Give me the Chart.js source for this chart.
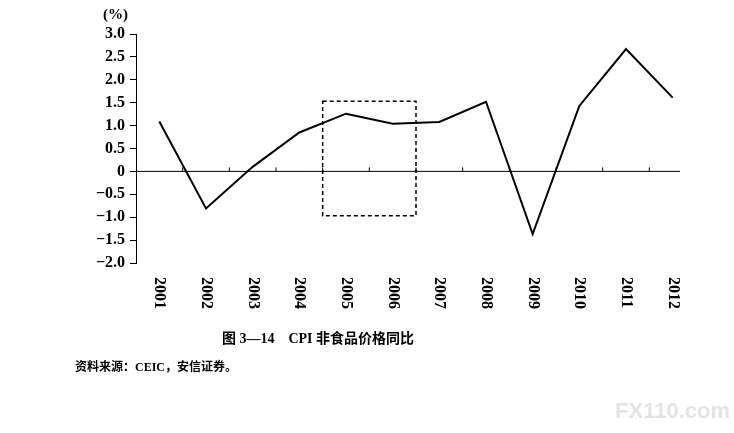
<!DOCTYPE html>
<html><head><meta charset="utf-8">
<script src="https://cdn.jsdelivr.net/npm/chart.js@4"></script>
<style>html,body{margin:0;padding:0;background:#fff;}canvas{display:block;}</style>
</head><body>
<canvas id="c" width="734" height="433"></canvas>
<script>
const years = ['2001','2002','2003','2004','2005','2006','2007','2008','2009','2010','2011','2012'];
const values = [1.09, -0.81, 0.10, 0.85, 1.26, 1.04, 1.08, 1.52, -1.37, 1.43, 2.67, 1.61];
const yRange = [-2, 3];
const yStep = 0.5;
const boxCategories = [3.5, 5.5];   // dashed box spans 2005–2006
const boxValues = [1.53, -0.97];
const unitLabel = '(%)';
const caption = '图 3—14　CPI 非食品价格同比';
const source = '资料来源：CEIC，安信证券。';
const watermark = 'FX110.com';

const SERIF = '"Liberation Serif", "Noto Sans CJK SC", serif';

const overlay = {
  id: 'overlay',
  afterDatasetsDraw(chart) {
    const ctx = chart.ctx, x = chart.scales.x, y = chart.scales.y, a = chart.chartArea;
    const y0 = y.getPixelForValue(0);
    ctx.save();
    // zero axis line
    ctx.strokeStyle = '#000'; ctx.lineWidth = 1;
    ctx.beginPath(); ctx.moveTo(a.left, y0); ctx.lineTo(a.right - 16, y0); ctx.stroke();
    // tick marks at category boundaries
    for (let i = 0; i < years.length - 1; i++) {
      const px = (x.getPixelForValue(i) + x.getPixelForValue(i + 1)) / 2;
      ctx.beginPath(); ctx.moveTo(px, y0); ctx.lineTo(px, y0 - 4); ctx.stroke();
    }
    // dashed box
    const bx0 = (x.getPixelForValue(Math.floor(boxCategories[0])) + x.getPixelForValue(Math.ceil(boxCategories[0]))) / 2;
    const bx1 = (x.getPixelForValue(Math.floor(boxCategories[1])) + x.getPixelForValue(Math.ceil(boxCategories[1]))) / 2;
    const by0 = y.getPixelForValue(boxValues[0]), by1 = y.getPixelForValue(boxValues[1]);
    ctx.setLineDash([4, 3]); ctx.lineWidth = 1.5;
    ctx.strokeRect(bx0, by0, bx1 - bx0, by1 - by0);
    ctx.setLineDash([]);
    // x labels, rotated to read top-to-bottom
    ctx.fillStyle = '#000';
    ctx.font = 'bold 16px ' + SERIF;
    years.forEach((yr, i) => {
      const px = x.getPixelForValue(i);
      ctx.save();
      ctx.translate(px, a.bottom + 14);
      ctx.rotate(Math.PI / 2);
      ctx.textAlign = 'left'; ctx.textBaseline = 'middle';
      ctx.fillText(yr, 0, 0);
      ctx.restore();
    });
    // unit label
    ctx.font = 'bold 15px ' + SERIF;
    ctx.textAlign = 'right'; ctx.textBaseline = 'middle';
    ctx.fillText(unitLabel, a.left - 8, a.top - 19);
    // caption
    ctx.font = 'bold 14px ' + SERIF;
    ctx.textAlign = 'center';
    ctx.fillText(caption, 318, 339);
    ctx.font = 'bold 12px ' + SERIF;
    ctx.textAlign = 'left';
    ctx.fillText(source, 75, 368);
    // watermark
    ctx.font = 'bold 22px "Liberation Sans", sans-serif';
    ctx.fillStyle = '#e4e4e4';
    ctx.textAlign = 'right';
    ctx.fillText(watermark, 730, 412);
    ctx.restore();
  }
};

new Chart(document.getElementById('c'), {
  type: 'line',
  data: {
    labels: years,
    datasets: [{
      data: values,
      borderColor: '#000',
      borderWidth: 2,
      pointRadius: 0,
      tension: 0,
      fill: false
    }]
  },
  options: {
    responsive: false,
    animation: false,
    devicePixelRatio: 1,
    layout: { padding: { top: 34, bottom: 170, right: 38, left: 0 } },
    plugins: { legend: { display: false }, tooltip: { enabled: false }, title: { display: false } },
    scales: {
      x: { type: 'category', offset: true, display: false },
      y: {
        min: yRange[0], max: yRange[1],
        afterFit(s) { s.width = 136; },
        border: { display: true, color: '#000', width: 1 },
        grid: { drawOnChartArea: false, drawTicks: true, tickLength: 6, color: '#000' },
        ticks: {
          stepSize: yStep,
          color: '#000',
          padding: 5,
          font: { family: SERIF, size: 16, weight: 'bold' },
          callback: v => v === 0 ? '0' : (v < 0 ? '\u2212' : '') + Math.abs(v).toFixed(1)
        }
      }
    }
  },
  plugins: [overlay]
});
</script>
</body></html>
